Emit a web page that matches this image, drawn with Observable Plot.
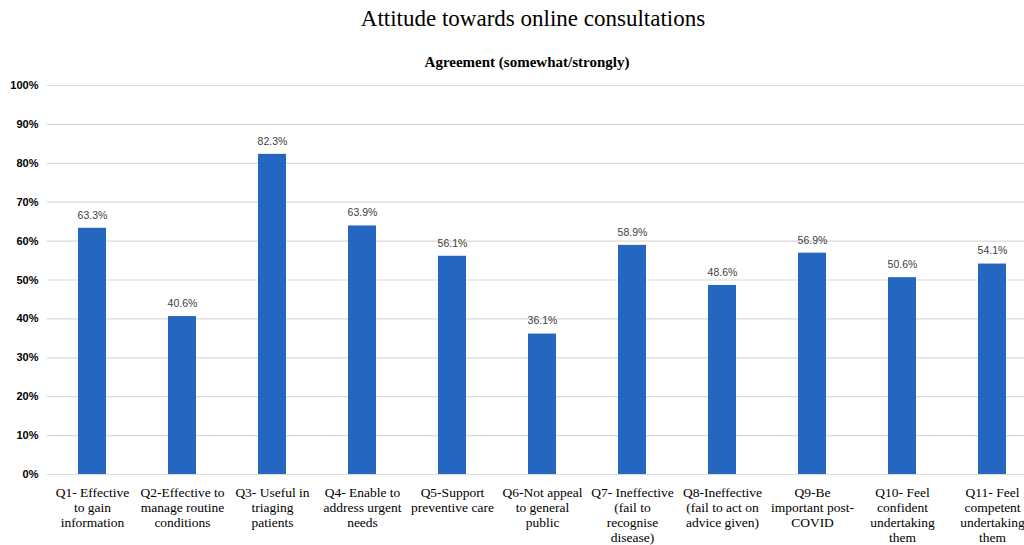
<!DOCTYPE html>
<html>
<head>
<meta charset="utf-8">
<script src="https://cdn.jsdelivr.net/npm/d3@7"></script>
<script src="https://cdn.jsdelivr.net/npm/@observablehq/plot@0.6"></script>
<style>
  html, body { margin: 0; padding: 0; background: #fff; overflow: hidden; }
  #title { height: 38px; line-height: 38px; text-align: center; font-family: "Liberation Serif", "Times New Roman", serif; font-size: 23px; color: #000; padding-left: 42px; }
  #subtitle { height: 37px; box-sizing: border-box; padding-top: 14px; line-height: 20px; text-align: center; font-family: "Liberation Serif", "Times New Roman", serif; font-weight: bold; font-size: 15px; color: #000; padding-left: 30px; }
</style>
</head>
<body>
<div id="title">Attitude towards online consultations</div>
<div id="subtitle">Agreement (somewhat/strongly)</div>
<div id="chart"></div>
<script>
const categories = [
  "Q1- Effective\nto gain\ninformation",
  "Q2-Effective to\nmanage routine\nconditions",
  "Q3- Useful in\ntriaging\npatients",
  "Q4- Enable to\naddress urgent\nneeds",
  "Q5-Support\npreventive care",
  "Q6-Not appeal\nto general\npublic",
  "Q7- Ineffective\n(fail to\nrecognise\ndisease)",
  "Q8-Ineffective\n(fail to act on\nadvice given)",
  "Q9-Be\nimportant post-\nCOVID",
  "Q10- Feel\nconfident\nundertaking\nthem",
  "Q11- Feel\ncompetent\nundertaking\nthem"
];
const values = [63.3, 40.6, 82.3, 63.9, 56.1, 36.1, 58.9, 48.6, 56.9, 50.6, 54.1];
const yTicks = [0, 10, 20, 30, 40, 50, 60, 70, 80, 90, 100];

const data = categories.map((c, i) => ({category: c, value: values[i]}));

const SERIF = "'Liberation Serif', 'Times New Roman', serif";
const SANS = "'Liberation Sans', Arial, sans-serif";

const chart = Plot.plot({
  width: 1024,
  height: 470,
  marginTop: 10,
  marginBottom: 71,
  marginLeft: 47,
  marginRight: -13,
  x: {domain: categories, paddingInner: 0.69, paddingOuter: 0.345, label: null},
  y: {domain: [0, 100], ticks: yTicks, label: null},
  style: {background: "#fff"},
  marks: [
    Plot.gridY(yTicks, {stroke: "#d9d9d9", strokeOpacity: 1, strokeWidth: 1.2}),
    Plot.axisY(yTicks, {
      tickSize: 0, tickPadding: 9, tickFormat: d => d + "%",
      fontWeight: "bold", fontSize: 11, fill: "#000"
    }),
    Plot.barY(data, {x: "category", y: "value", fill: "#2567c0"}),
    Plot.text(data, {
      x: "category", y: "value", text: d => d.value.toFixed(1) + "%",
      dy: -13, fontSize: 10.5, fill: "#404040"
    }),
    Plot.axisX({
      tickSize: 0, tickPadding: 12, lineHeight: 1.1,
      fontSize: 13.5, fill: "#000", textOverflow: null
    })
  ]
});
document.getElementById("chart").appendChild(chart);
d3.select(chart).selectAll("text").each(function() {
  const t = this.textContent || "";
  this.style.fontFamily = t.trim().endsWith("%") ? SANS : SERIF;
});
</script>
</body>
</html>
